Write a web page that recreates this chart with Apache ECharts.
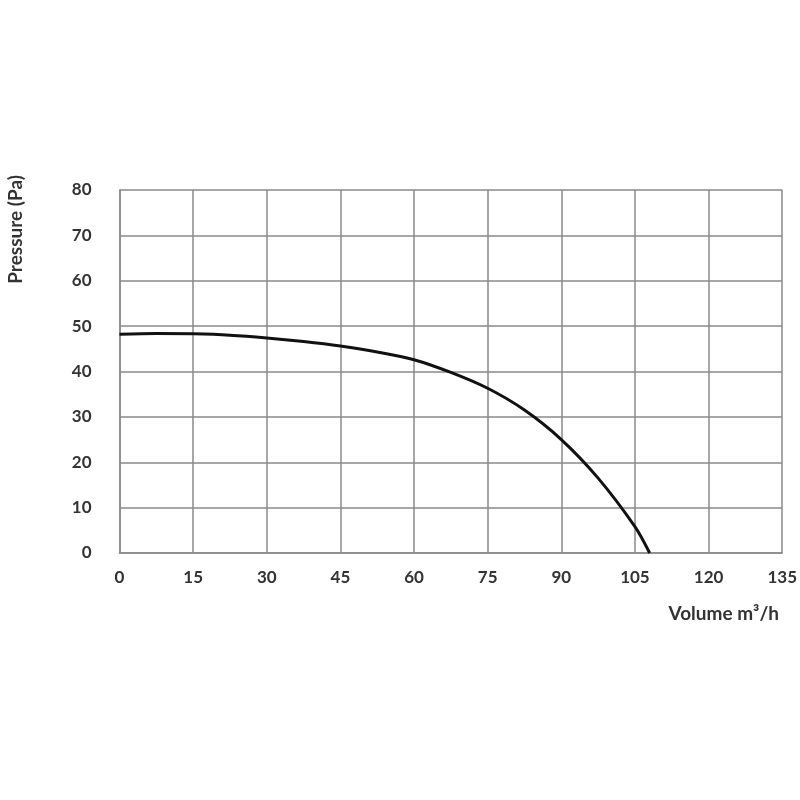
<!DOCTYPE html>
<html>
<head>
<meta charset="utf-8">
<style>
  html, body { margin: 0; padding: 0; background: #fff; }
  #chart { width: 800px; height: 800px; }
</style>
<script src="https://cdn.jsdelivr.net/npm/echarts@6/dist/echarts.min.js"></script>
</head>
<body>
<div id="chart"></div>
<script>
  // fan curve: [volume m³/h, pressure Pa]
  const curvePoints = [
    [0, 48.2], [7.5, 48.4], [15, 48.3], [22.5, 48.0], [30, 47.4],
    [37.5, 46.6], [45, 45.6], [52.5, 44.3], [60, 42.6], [67.5, 39.8],
    [75, 36.3], [82.5, 31.5], [90, 25.0], [97.5, 16.5], [105, 5.8], [108, 0]
  ];
  const xTicks = [0, 15, 30, 45, 60, 75, 90, 105, 120, 135];
  const yTicks = [0, 10, 20, 30, 40, 50, 60, 70, 80];
  const xTitle = "Volume m³/h";
  const yTitle = "Pressure (Pa)";

  const GRID = "#8a8a8a";
  const TEXT = "#333";
  const FONT = "Lato, 'Open Sans', sans-serif";

  const chart = echarts.init(document.getElementById("chart"));
  chart.setOption({
    animation: false,
    backgroundColor: "#fff",
    grid: { left: 119.5, right: 17, top: 190, bottom: 247 },
    xAxis: {
      type: "value",
      min: xTicks[0],
      max: xTicks[xTicks.length - 1],
      interval: xTicks[1] - xTicks[0],
      axisLine: { show: true, lineStyle: { color: GRID, width: 1.5 } },
      axisTick: { show: false },
      splitLine: { show: true, lineStyle: { color: GRID, width: 1.5 } },
      axisLabel: { color: TEXT, fontFamily: FONT, fontWeight: "bold", fontSize: 17, margin: 16 }
    },
    yAxis: {
      type: "value",
      min: yTicks[0],
      max: yTicks[yTicks.length - 1],
      interval: yTicks[1] - yTicks[0],
      axisLine: { show: true, lineStyle: { color: GRID, width: 1.5 } },
      axisTick: { show: false },
      splitLine: { show: true, lineStyle: { color: GRID, width: 1.5 } },
      axisLabel: { color: TEXT, fontFamily: FONT, fontWeight: "bold", fontSize: 17, margin: 28 }
    },
    graphic: [
      {
        type: "text", left: 6, top: 175, rotation: Math.PI / 2,
        style: { text: yTitle, fill: TEXT, font: "bold 19px " + FONT }
      },
      {
        type: "text", right: 21, top: 604,
        style: { text: xTitle, fill: TEXT, font: "bold 19px " + FONT }
      }
    ],
    series: [{
      type: "line",
      data: curvePoints,
      smooth: 0.3,
      showSymbol: false,
      lineStyle: { color: "#111", width: 3 }
    }]
  });
</script>
</body>
</html>
